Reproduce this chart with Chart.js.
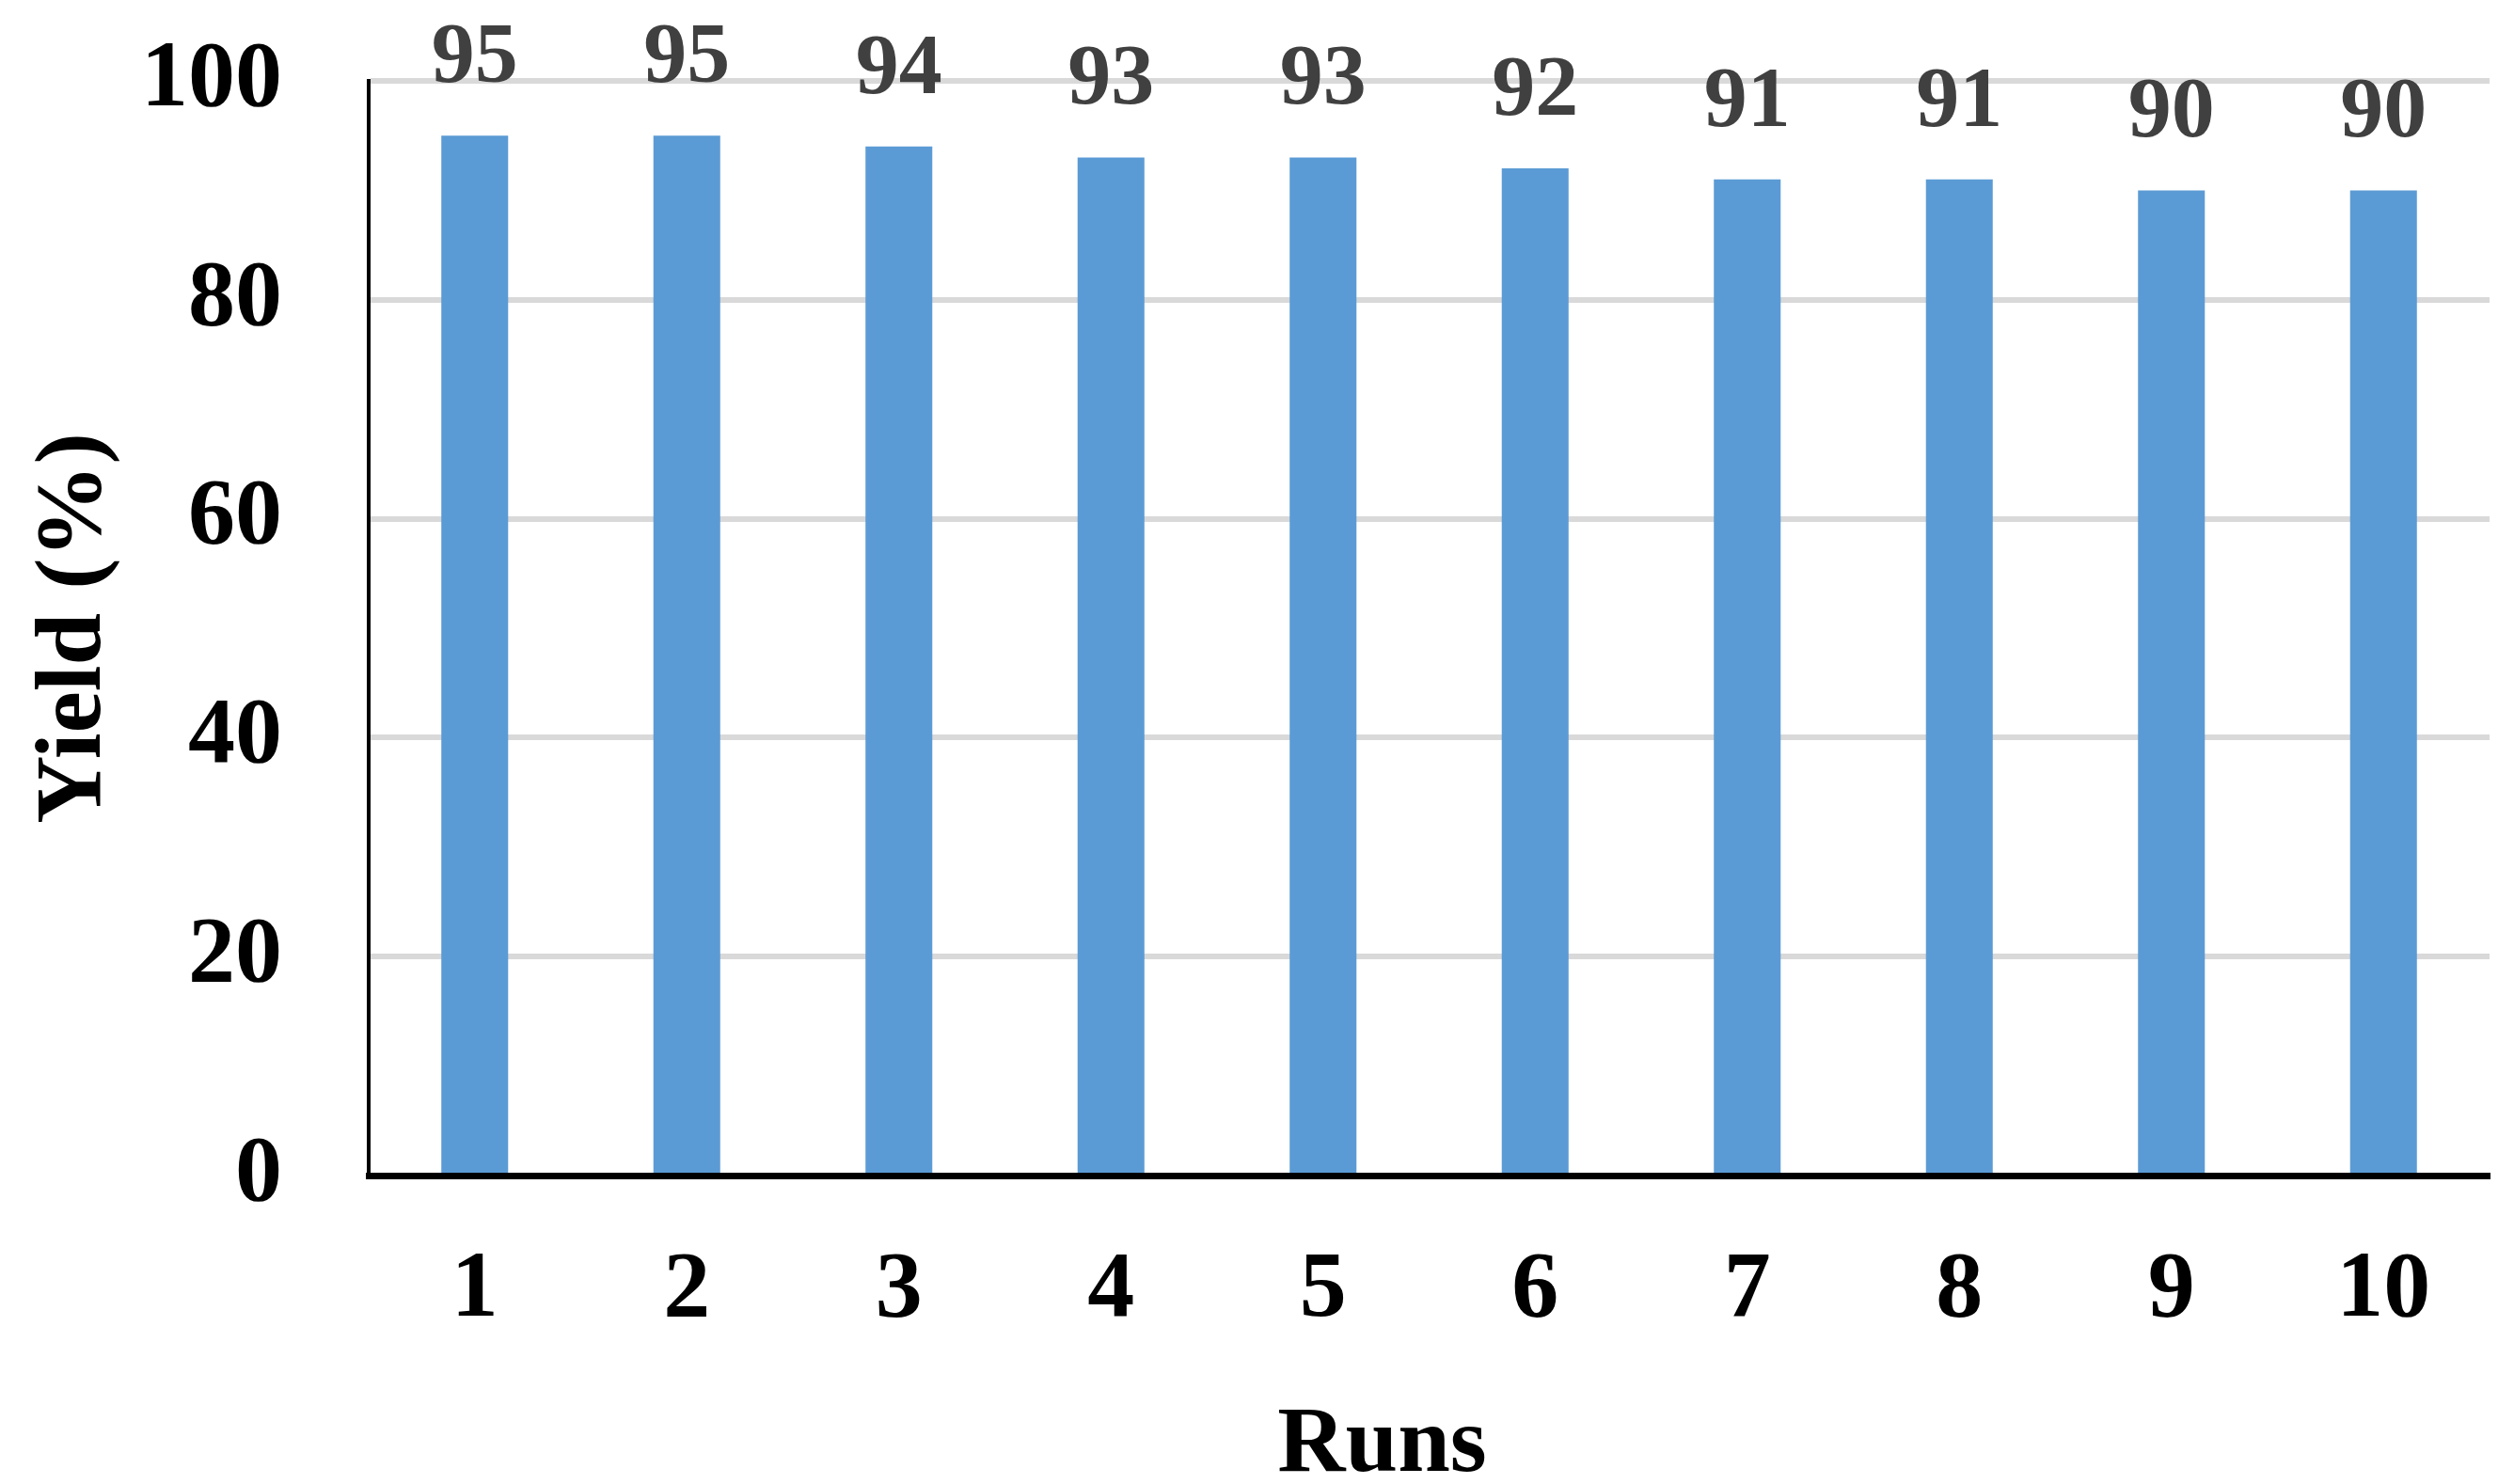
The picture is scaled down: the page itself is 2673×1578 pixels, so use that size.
<!DOCTYPE html>
<html lang="en">
<head>
    <meta charset="utf-8">
    <title>Yield per run</title>
    <script src="https://cdn.jsdelivr.net/npm/chart.js"></script>
    <style>
        body { margin: 0; background: #fff; }
    </style>
</head>
<body>
    <canvas id="yieldChart" width="2673" height="1578"></canvas>
    <script>
        // data
        var runs = ['1', '2', '3', '4', '5', '6', '7', '8', '9', '10'];
        var yieldValues = [95, 95, 94, 93, 93, 92, 91, 91, 90, 90];
        var yTicks = [0, 20, 40, 60, 80, 100];

        var serif = '"Liberation Serif", "Times New Roman", serif';

        // value labels above every bar
        var barLabels = {
            id: 'barLabels',
            afterDatasetsDraw: function (chart) {
                var ctx = chart.ctx;
                var meta = chart.getDatasetMeta(0);
                ctx.save();
                ctx.font = 'bold 92px ' + serif;
                ctx.fillStyle = '#404040';
                ctx.textAlign = 'center';
                ctx.textBaseline = 'alphabetic';
                meta.data.forEach(function (bar, i) {
                    ctx.fillText(String(yieldValues[i]), bar.x, bar.y - 57);
                });
                ctx.restore();
            }
        };

        var ctx = document.getElementById('yieldChart').getContext('2d');
        var myChart = new Chart(ctx, {
            type: 'bar',
            data: {
                labels: runs,
                datasets: [{
                    label: 'Yield',
                    data: yieldValues,
                    backgroundColor: '#5b9bd5',
                    borderWidth: 0,
                    categoryPercentage: 1,
                    barPercentage: 0.315
                }]
            },
            plugins: [barLabels],
            options: {
                responsive: false,
                devicePixelRatio: 1,
                animation: false,
                layout: {
                    padding: { top: 86, right: 26, bottom: 0, left: 0 }
                },
                plugins: {
                    legend: { display: false },
                    tooltip: { enabled: false }
                },
                scales: {
                    x: {
                        grid: { display: false, drawTicks: false },
                        border: { display: true, color: '#000', width: 7 },
                        ticks: {
                            color: '#000',
                            padding: 63,
                            font: { family: serif, size: 100, weight: 'bold' }
                        },
                        title: {
                            display: true,
                            // trailing spaces pull the centred title left, as in the picture
                            text: 'Runs\u00a0\u00a0\u00a0\u00a0',
                            color: '#000',
                            padding: { top: 0, bottom: 0 },
                            font: { family: serif, size: 100, weight: 'bold', lineHeight: 0.8 }
                        },
                        afterFit: function (scale) {
                            scale.height = 328;
                            scale.paddingLeft = 0;
                            scale.paddingRight = 0;
                        }
                    },
                    y: {
                        min: 0,
                        max: 100,
                        afterBuildTicks: function (scale) {
                            scale.ticks = yTicks.map(function (v) { return { value: v }; });
                        },
                        grid: {
                            drawTicks: false,
                            lineWidth: 6,
                            color: function (c) {
                                return c.tick && c.tick.value === 0 ? 'rgba(0,0,0,0)' : '#d9d9d9';
                            }
                        },
                        border: { display: true, color: '#000', width: 4 },
                        ticks: {
                            color: '#000',
                            padding: 92,
                            font: { family: serif, size: 100, weight: 'bold' }
                        },
                        title: {
                            display: true,
                            text: 'Yield (%)',
                            color: '#000',
                            padding: { top: 20, bottom: 0 },
                            font: { family: serif, size: 100, weight: 'bold', lineHeight: 1.2 }
                        },
                        afterFit: function (scale) {
                            scale.width = 392;
                            scale.paddingTop = 0;
                            scale.paddingBottom = 0;
                        }
                    }
                }
            }
        });
    </script>
</body>
</html>
